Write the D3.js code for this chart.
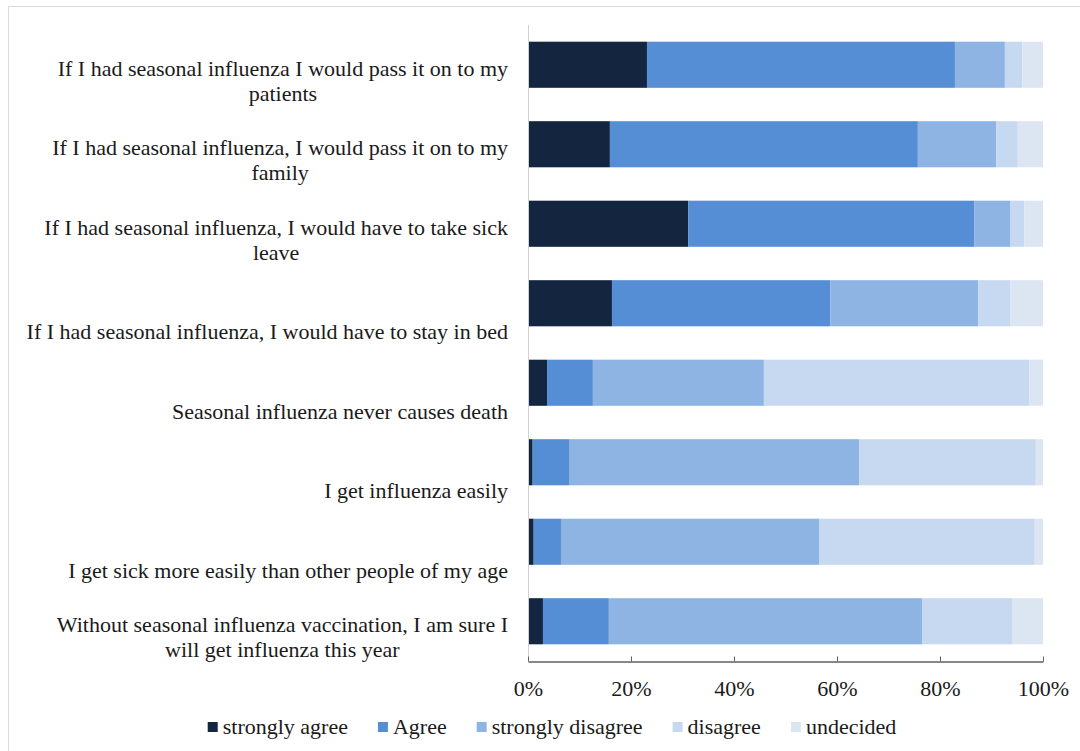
<!DOCTYPE html>
<html>
<head>
<meta charset="utf-8">
<script src="https://cdn.jsdelivr.net/npm/d3@7"></script>
<style>
  body { margin: 0; background: #fff; }
  text { font-family: "Liberation Serif", "Times New Roman", serif; fill: #1a1a1a; }
</style>
</head>
<body>
<div id="chart"></div>
<script>
// category labels, one array of lines per bar (top to bottom)
const categories = [
  ["If I had seasonal influenza I would pass it on to my", "patients"],
  ["If I had seasonal influenza, I would pass it on to my", "family"],
  ["If I had seasonal influenza, I would have to take sick", "leave"],
  ["If I had seasonal influenza, I would have to stay in bed"],
  ["Seasonal influenza never causes death"],
  ["I get influenza easily"],
  ["I get sick more easily than other people of my age"],
  ["Without seasonal influenza vaccination, I am sure I", "will get influenza this year"]
];

const seriesNames = ["strongly agree", "Agree", "strongly disagree", "disagree", "undecided"];
const seriesColors = ["#13253f", "#558ed5", "#8eb4e3", "#c6d9f1", "#dce6f2"];

// percentages per series, same order as categories
const stronglyAgree    = [23.1, 15.9, 31.1, 16.3,  3.7,  0.9,  1.1,  2.9];
const agree            = [59.8, 59.8, 55.6, 42.4,  8.9,  7.2,  5.3, 12.8];
const stronglyDisagree = [ 9.7, 15.2,  7.0, 28.7, 33.2, 56.2, 50.1, 60.8];
const disagree         = [ 3.4,  4.2,  2.7,  6.3, 51.5, 34.3, 41.9, 17.6];
const undecided        = [ 4.0,  4.9,  3.6,  6.3,  2.7,  1.4,  1.6,  5.9];

const xTicks = [0, 0.2, 0.4, 0.6, 0.8, 1.0];

const width = 1080, height = 751;
const margin = {top: 25, right: 37, bottom: 90, left: 528};

const svg = d3.select("#chart").append("svg")
    .attr("width", width)
    .attr("height", height);

// outer frame (top + left edges visible)
svg.append("path")
    .attr("d", `M8.5,${height} V6.5 H${width}`)
    .attr("fill", "none")
    .attr("stroke", "#d9d9d9");

const rows = categories.map((c, i) => ({
    index: i,
    lines: c,
    "strongly agree": stronglyAgree[i],
    "Agree": agree[i],
    "strongly disagree": stronglyDisagree[i],
    "disagree": disagree[i],
    "undecided": undecided[i]
}));

const stack = d3.stack().keys(seriesNames).offset(d3.stackOffsetExpand);
const layers = stack(rows);

const xScale = d3.scaleLinear().domain([0, 1]).range([margin.left, width - margin.right]);
const yScale = d3.scaleBand()
    .domain(rows.map(d => d.index))
    .range([margin.top, height - margin.bottom])
    .paddingInner(0.42)
    .paddingOuter(0.21);

const color = d3.scaleOrdinal().domain(seriesNames).range(seriesColors);

// bars
svg.append("g").selectAll("g")
    .data(layers)
    .join("g")
    .attr("fill", d => color(d.key))
    .selectAll("rect")
    .data(d => d)
    .join("rect")
    .attr("x", d => xScale(d[0]))
    .attr("width", d => xScale(d[1]) - xScale(d[0]))
    .attr("y", d => yScale(d.data.index))
    .attr("height", yScale.bandwidth());

// vertical axis line
svg.append("line")
    .attr("x1", margin.left + 0.5).attr("x2", margin.left + 0.5)
    .attr("y1", margin.top).attr("y2", height - margin.bottom)
    .attr("stroke", "#d0d0d0");

// x axis
const xAxisG = svg.append("g")
    .attr("transform", `translate(0,${height - margin.bottom + 0.5})`)
    .call(d3.axisBottom(xScale)
        .tickValues(xTicks)
        .tickFormat(d3.format(".0%"))
        .tickSizeInner(-5)
        .tickSizeOuter(0)
        .tickPadding(19));
xAxisG.select(".domain").attr("stroke", "#606060").attr("stroke-width", 1.5);
xAxisG.selectAll(".tick line").attr("stroke", "#606060");
xAxisG.selectAll(".tick text")
    .attr("font-size", "22px")
    .attr("font-family", "Liberation Serif, serif")
    .attr("fill", "#1a1a1a");

// category labels: block right-aligned at x=508, lines centered
const labelRight = 508;
const lineH = 25;
const labelG = svg.append("g");
rows.forEach(r => {
    const g = labelG.append("g");
    const c = yScale(r.index) + yScale.bandwidth() / 2;
    const n = r.lines.length;
    const texts = r.lines.map((line, k) => g.append("text")
        .attr("y", c + 36 - (n - 1 - k) * lineH)
        .attr("font-size", "22px")
        .attr("text-anchor", "middle")
        .text(line));
    const maxW = d3.max(texts, t => t.node().getComputedTextLength());
    texts.forEach(t => t.attr("x", labelRight - maxW / 2));
});

// legend
const legendG = svg.append("g");
let lx = 0;
seriesNames.forEach(name => {
    const item = legendG.append("g").attr("transform", `translate(${lx},0)`);
    item.append("rect")
        .attr("x", 0).attr("y", -12)
        .attr("width", 10).attr("height", 10)
        .attr("fill", color(name));
    const t = item.append("text")
        .attr("x", 15)
        .attr("font-size", "22px")
        .text(name);
    lx += 15 + t.node().getComputedTextLength() + 30;
});
const legendW = lx - 30;
legendG.attr("transform", `translate(${552 - legendW / 2},734)`);
</script>
</body>
</html>
